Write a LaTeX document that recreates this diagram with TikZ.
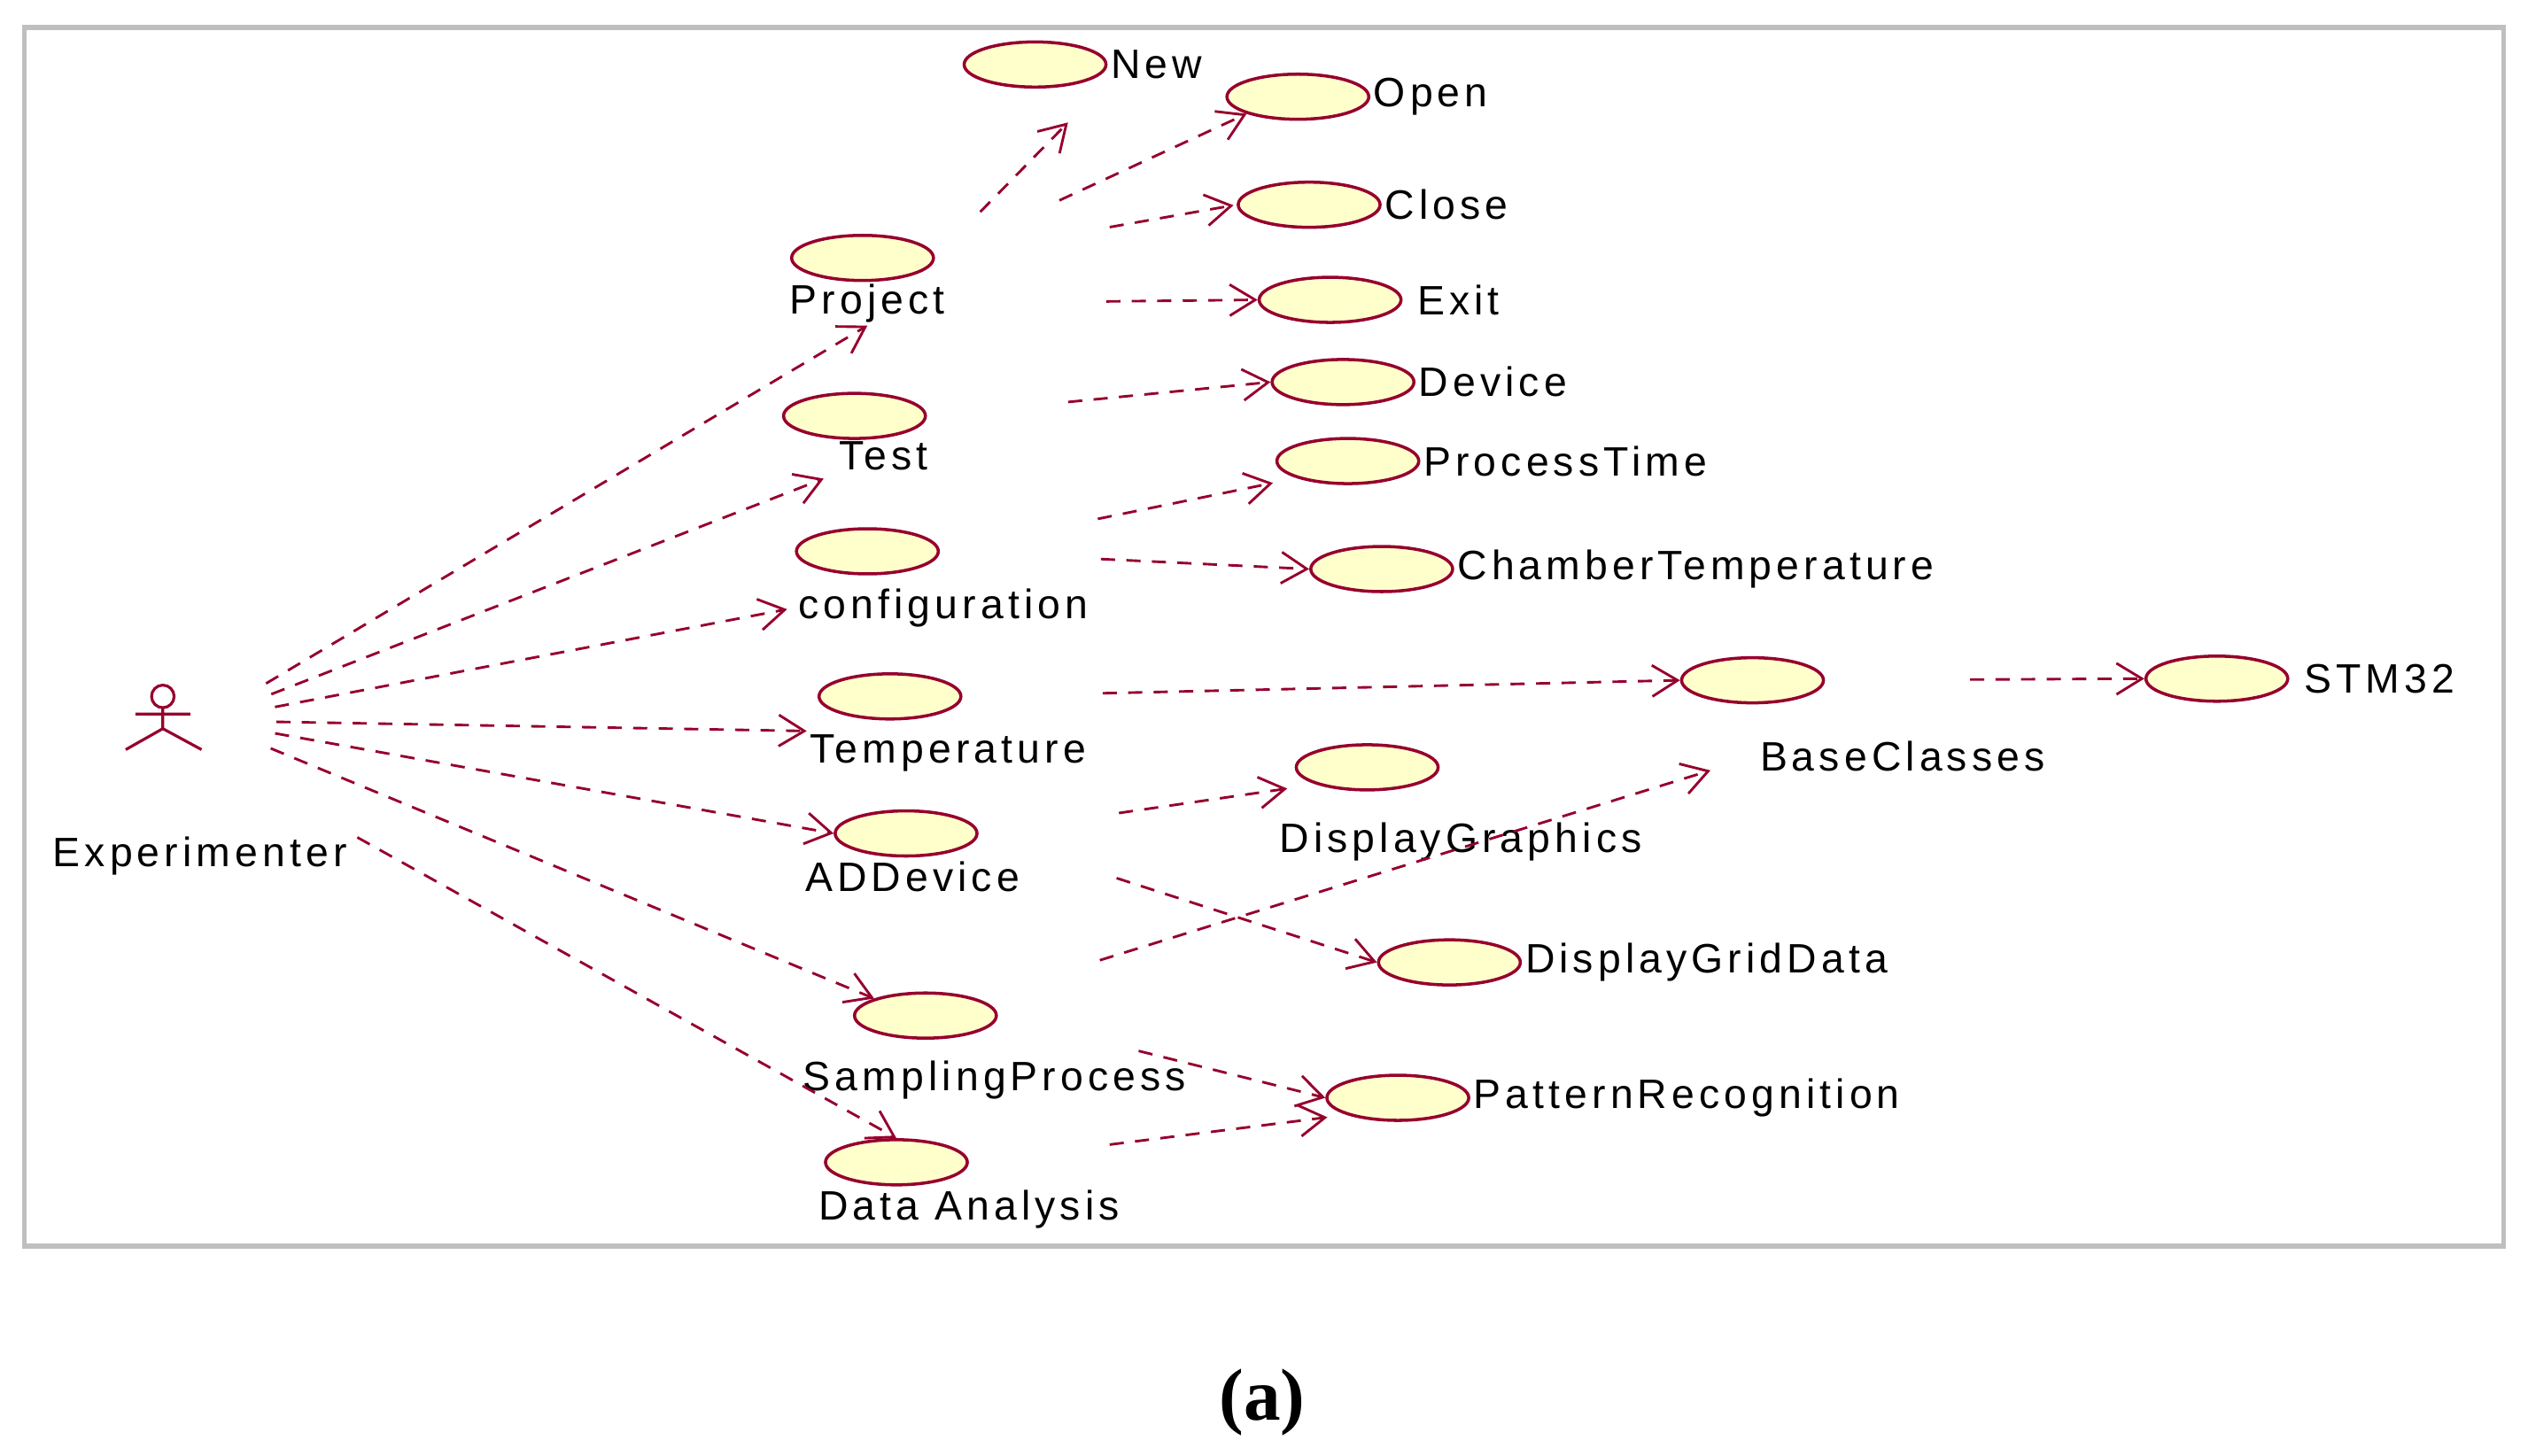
\documentclass[tikz,border=0pt]{standalone}
\usepackage{fontspec}
\setmainfont{Liberation Sans}
\newfontfamily\capfont{Liberation Serif}
\usetikzlibrary{arrows.meta,shapes.geometric}
\definecolor{umlred}{RGB}{150,0,45}
\definecolor{ucfill}{RGB}{255,255,204}
\tikzset{
  uc/.style={ellipse, draw=umlred, fill=ucfill, line width=1.1pt,
    minimum width=1.76cm, minimum height=0.56cm, inner sep=0pt},
  lbl/.style={inner sep=1pt, font=\fontsize{14.5}{16}\selectfont\addfontfeature{LetterSpace=11}},
  dep/.style={draw=umlred, line width=0.9pt, dash pattern=on 5pt off 4pt,
    -{Straight Barb[length=9pt,width=11pt,line width=0.9pt]}},
  s/.style 2 args={shorten <=#1*0.02cm, shorten >=#2*0.02cm}
}
\begin{document}
\begin{tikzpicture}[x=0.02cm, y=-0.02cm]
\useasboundingbox (0,0) rectangle (1568,903);
\draw[black!25, line width=1.6pt] (15,17) rectangle (1553,773);

% actor
\node[minimum width=1cm, minimum height=0.8cm, inner sep=0pt] (actor) at (101,447) {};
\draw[umlred, line width=1pt] (101,432) circle (7)
  (101,439) -- (101,452) (84,443) -- (118,443)
  (78,465) -- (101,452) -- (125,465);
\node[lbl] (actorL) at (124,531) {Experimenter};

% use cases
\node[uc] (project) at (535,160) {};
\node[lbl] (projectL) at (538,188) {Project};
\node[uc] (test) at (530,258) {};
\node[lbl] (testL) at (548,283) {Test};
\node[uc] (config) at (538,342) {};
\node[lbl] (configL) at (585,377) {configuration};
\node[uc] (temp) at (552,432) {};
\node[lbl] (tempL) at (588,467) {Temperature};
\node[uc] (addev) at (562,517) {};
\node[lbl] (addevL) at (566,544) {ADDevice};
\node[uc] (sampling) at (574,630) {};
\node[lbl] (samplingL) at (617,670) {SamplingProcess};
\node[uc] (data) at (556,721) {};
\node[lbl] (dataL) at (601,750) {Data Analysis};

\node[uc] (new) at (642,40) {};
\node[lbl, anchor=west] (newL) at (new.east) {New};
\node[uc] (open) at (805,60) {};
\node[lbl, anchor=west] (openL) at (open.east) {Open};
\node[uc] (close) at (812,127) {};
\node[lbl, anchor=west] (closeL) at (close.east) {Close};
\node[uc] (exit) at (825,186) {};
\node[lbl, anchor=west] (exitL) at ([xshift=4pt]exit.east) {Exit};
\node[uc] (device) at (833,237) {};
\node[lbl, anchor=west] (deviceL) at (device.east) {Device};
\node[uc] (ptime) at (836,286) {};
\node[lbl, anchor=west] (ptimeL) at (ptime.east) {ProcessTime};
\node[uc] (chamber) at (857,353) {};
\node[lbl, anchor=west] (chamberL) at (chamber.east) {ChamberTemperature};
\node[uc] (base) at (1087,422) {};
\node[lbl] (baseL) at (1180,469) {BaseClasses};
\node[uc] (stm) at (1375,421) {};
\node[lbl, anchor=west] (stmL) at ([xshift=4pt]stm.east) {STM32};
\node[uc] (dgraph) at (848,476) {};
\node[lbl] (dgraphL) at (906,522) {DisplayGraphics};
\node[uc] (dgrid) at (899,597) {};
\node[lbl, anchor=west] (dgridL) at (dgrid.east) {DisplayGridData};
\node[uc] (pattern) at (867,681) {};
\node[lbl, anchor=west] (patternL) at (pattern.east) {PatternRecognition};

% actor dependencies
\draw[dep, s={45}{0}] (actor.east) -- (projectL.south);
\draw[dep, s={45}{8}] (actor.east) -- (testL.south west);
\draw[dep, s={45}{5}] (actor.east) -- (configL.west);
\draw[dep, s={45}{0}] (actor.east) -- (tempL.north west);
\draw[dep, s={45}{0}] (actor.east) -- (addev.west);
\draw[dep, s={45}{0}] (actor.east) -- (sampling.north west);
\draw[dep, s={5}{0}] (actorL.north east) -- (data.north);

% project
\draw[dep, s={40}{35}] (project.east) -- (newL.south west);
\draw[dep, s={85}{0}] (project.east) -- (open.south west);
\draw[dep, s={110}{2}] (project.east) -- (close.west);
\draw[dep, s={98}{0}] (projectL.east) -- (exit.west);
% others
\draw[dep, s={88}{0}] (test.east) -- (device.west);
\draw[dep, s={100}{15}] (config.east) -- (ptime.south west);
\draw[dep, s={100}{0}] (config.east) -- (chamber.west);
\draw[dep, s={87}{0}] (temp.east) -- (base.west);
\draw[dep, s={88}{18}] (addev.east) -- (dgraph.south west);
\draw[dep, s={90}{0}] (addev.east) -- (dgrid.west);
\draw[dep, s={80}{30}] (sampling.north east) -- (baseL.west);
\draw[dep, s={90}{0}] (sampling.east) -- (pattern.west);
\draw[dep, s={88}{12}] (data.east) -- (pattern.south west);
\draw[dep, s={90}{0}] (base.east) -- (stm.west);

\node[font=\capfont\bfseries\fontsize{26}{30}\selectfont] (caption) at (783,870) {(a)};
\end{tikzpicture}
\end{document}
